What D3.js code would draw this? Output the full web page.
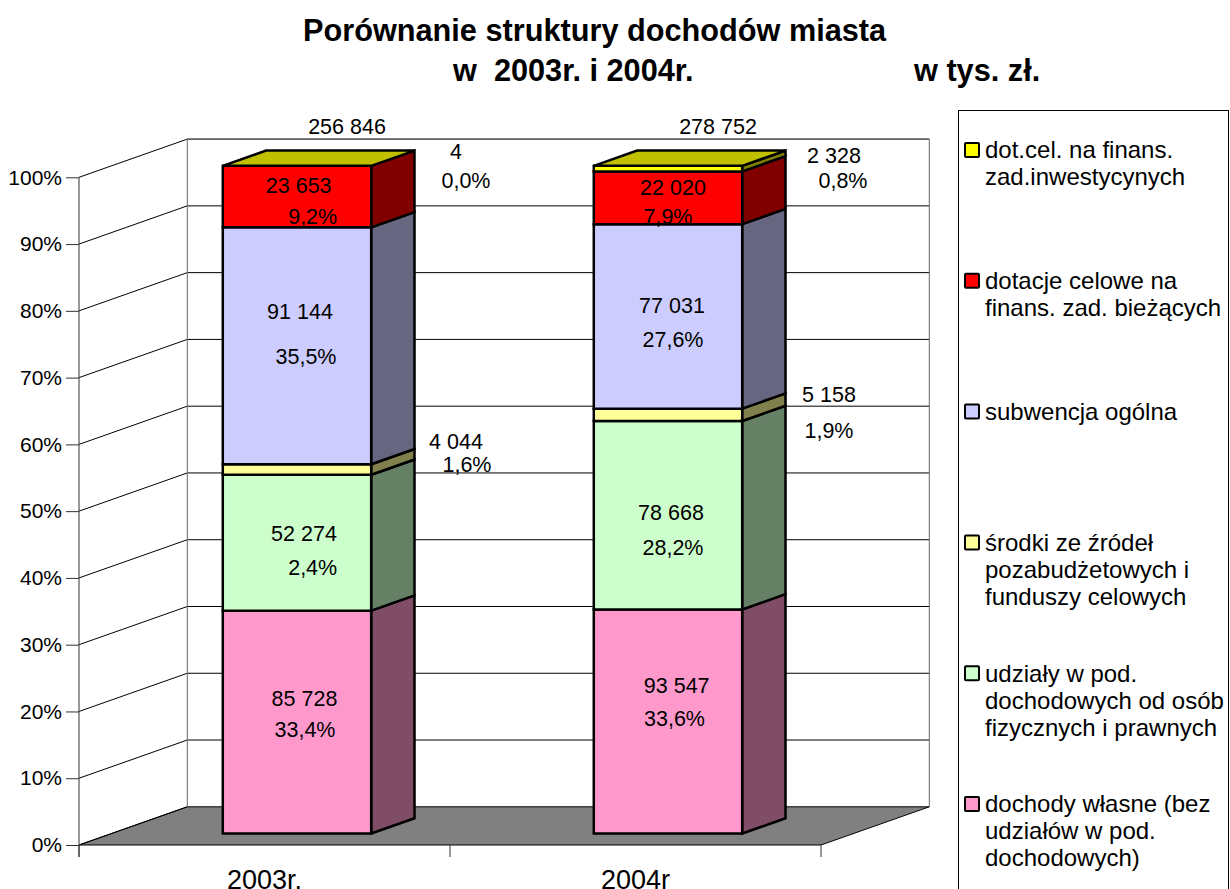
<!DOCTYPE html>
<html>
<head>
<meta charset="utf-8">
<script src="https://cdn.jsdelivr.net/npm/d3@7"></script>
<style>
  html, body { margin: 0; padding: 0; background: #fff; overflow: hidden; }
  svg { display: block; }
  text { font-family: "Liberation Sans", Arial, sans-serif; fill: #000; }
</style>
</head>
<body>
<div id="viz"></div>
<script>
var years = ['2003r.', '2004r'];
var seriesKeys = ['wlasne', 'udzialy', 'pozabudzet', 'subwencja', 'biezace', 'inwest'];

var values2003 = [85728, 52274, 4044, 91144, 23653, 4];
var values2004 = [93547, 78668, 5158, 77031, 22020, 2328];

var valueLabels2003 = ['85 728', '52 274', '4 044', '91 144', '23 653', '4'];
var valueLabels2004 = ['93 547', '78 668', '5 158', '77 031', '22 020', '2 328'];
var pctLabels2003 = ['33,4%', '2,4%', '1,6%', '35,5%', '9,2%', '0,0%'];
var pctLabels2004 = ['33,6%', '28,2%', '1,9%', '27,6%', '7,9%', '0,8%'];
var totalLabels = ['256 846', '278 752'];

var yTicks = [0, .1, .2, .3, .4, .5, .6, .7, .8, .9, 1];

var legendLabels = [
  ['dot.cel. na finans.', 'zad.inwestycynych'],
  ['dotacje celowe na', 'finans. zad. bieżących'],
  ['subwencja ogólna'],
  ['środki ze źródeł', 'pozabudżetowych i', 'funduszy celowych'],
  ['udziały w pod.', 'dochodowych od osób', 'fizycznych i prawnych'],
  ['dochody własne (bez', 'udziałów w pod.', 'dochodowych)']
];
var legendKeys = ['inwest', 'biezace', 'subwencja', 'pozabudzet', 'udzialy', 'wlasne'];

// colours
var frontColors = ['#FF99CC', '#CCFFCC', '#FFFF99', '#CCCCFF', '#FF0000', '#FFFF00'];
var sideColors = ['#804D66', '#668066', '#80804D', '#666680', '#800000', '#808000'];

// hand placed text boxes in the original, offsets from bar centre / segment middle
var valueNudge = [
  [[7.5, -24], [7, -9], [159, -28], [3, -34], [1.7, -11], [159, -14]],
  [[8.7, -36.5], [3, -3], [161, -20], [4, -11], [5, -10], [166, -13]]
];
var pctNudge = [
  [[8, 7], [15.7, 25], [170, -5.5], [9, 11], [15.7, 20], [169, 15]],
  [[6.5, -3.5], [5, 32], [161, 16], [5, 23], [0, 19], [175, 12]]
];

var width = 1230,
    height = 889,
    plotLeft = 79,
    plotRight = 821,
    axisSize = 21,
    labelSize = 21.5,
    legendSize = 24;

var table = years.map(function(y, i) {
  var row = {year: y};
  var vals = i === 0 ? values2003 : values2004;
  seriesKeys.forEach(function(k, j) { row[k] = vals[j]; });
  return row;
});

var stacked = d3.stack().keys(seriesKeys).offset(d3.stackOffsetExpand)(table);

var yScale = d3.scaleLinear().domain([0, 1]).range([845, 177.3]);
var xScale = d3.scaleBand()
    .domain(years)
    .paddingInner(.6)
    .paddingOuter(.3)
    .range([plotLeft, plotRight]);
var depthX = d3.scaleLinear().domain([0, 1]).range([0, 108.3]);
var depthY = d3.scaleLinear().domain([0, 1]).range([0, -38.2]);

// x on the front plane, v = share of total, d = depth 0..1
function pt(x, v, d) {
  return [x + depthX(d), yScale(v) + depthY(d)];
}
var poly = d3.line();
function face(points) { return poly(points) + 'Z'; }

var svg = d3.select('#viz').append('svg')
  .attr('width', width)
  .attr('height', height);

// floor
svg.append('path')
  .attr('d', face([pt(plotLeft, 0, 0), pt(plotRight, 0, 0), pt(plotRight, 0, 1), pt(plotLeft, 0, 1)]))
  .style('fill', '#808080');
svg.append('path')
  .attr('d', poly([pt(plotLeft, 0, 0), pt(plotRight, 0, 0), pt(plotRight, 0, 1), pt(plotLeft, 0, 1), pt(plotLeft, 0, 0)]))
  .style('fill', 'none').style('stroke', '#000').style('stroke-width', 1);

// gridlines: side wall + back wall
var grid = svg.append('g').style('fill', 'none').style('stroke', '#000').style('stroke-width', 1);
grid.selectAll('.side').data(yTicks).enter().append('path')
  .attr('d', function(d) { return poly([pt(plotLeft, d, 0), pt(plotLeft, d, 1)]); });
grid.selectAll('.back').data(yTicks.slice(1)).enter().append('path')
  .attr('d', function(d) { return poly([pt(plotLeft, d, 1), pt(plotRight, d, 1)]); });

// wall outlines
svg.append('path')
  .attr('d', poly([pt(plotLeft, 0, 1), pt(plotLeft, 1, 1), pt(plotRight, 1, 1), pt(plotRight, 0, 1)]))
  .style('fill', 'none').style('stroke', '#666').style('stroke-width', 1);

// y axis
var yAxis = svg.append('g')
  .attr('transform', 'translate(' + plotLeft + ',0)')
  .call(d3.axisLeft(yScale).tickValues(yTicks).tickFormat(d3.format('.0%')).tickSize(13).tickPadding(4));
yAxis.selectAll('text').style('font-size', axisSize + 'px');
yAxis.select('.domain').attr('d', poly([[0, yScale(1)], [0, yScale(0) + 12]])).style('stroke', '#333');
yAxis.selectAll('.tick line').style('stroke', '#333');

// category ticks sit on the band edges
var edges = d3.range(years.length + 1).map(function(i) { return plotLeft + i * xScale.step(); });
svg.selectAll('.catTick').data(edges).enter().append('line')
  .attr('x1', function(d) { return d; })
  .attr('x2', function(d) { return d; })
  .attr('y1', yScale(0))
  .attr('y2', yScale(0) + 12)
  .style('stroke', '#333');

svg.selectAll('.catLabel').data(years).enter().append('text')
  .attr('x', function(d) { return xScale(d) + xScale.bandwidth() / 2; })
  .attr('y', 889)
  .attr('text-anchor', 'middle')
  .style('font-size', '27px')
  .text(function(d) { return d; });

// bars
var barZ0 = .3, barZ1 = .7;
var bars = svg.append('g').style('stroke', '#000').style('stroke-width', 2.5).style('stroke-linejoin', 'miter');

stacked.forEach(function(layer, s) {
  layer.forEach(function(d, i) {
    var x0 = xScale(years[i]), x1 = x0 + xScale.bandwidth();
    if (d[1] - d[0] > .0005) {
      bars.append('path')
        .attr('d', face([pt(x1, d[0], barZ0), pt(x1, d[0], barZ1), pt(x1, d[1], barZ1), pt(x1, d[1], barZ0)]))
        .style('fill', sideColors[s]);
      bars.append('path')
        .attr('d', face([pt(x0, d[0], barZ0), pt(x1, d[0], barZ0), pt(x1, d[1], barZ0), pt(x0, d[1], barZ0)]))
        .style('fill', frontColors[s]);
    }
    if (s === stacked.length - 1) {
      bars.append('path')
        .attr('d', face([pt(x0, 1, barZ0), pt(x1, 1, barZ0), pt(x1, 1, barZ1), pt(x0, 1, barZ1)]))
        .style('fill', '#C0C000');
    }
  });
});

// data labels
function addLabel(x, y, txt) {
  svg.append('text')
    .attr('x', x)
    .attr('y', y)
    .attr('dy', '.35em')
    .attr('text-anchor', 'middle')
    .style('font-size', labelSize + 'px')
    .text(txt);
}

stacked.forEach(function(layer, s) {
  layer.forEach(function(d, i) {
    var c = pt(xScale(years[i]) + xScale.bandwidth() / 2, (d[0] + d[1]) / 2, barZ0);
    var vals = i === 0 ? valueLabels2003 : valueLabels2004;
    var pcts = i === 0 ? pctLabels2003 : pctLabels2004;
    addLabel(c[0] + valueNudge[i][s][0], c[1] + valueNudge[i][s][1], vals[s]);
    addLabel(c[0] + pctNudge[i][s][0], c[1] + pctNudge[i][s][1], pcts[s]);
  });
});

years.forEach(function(y, i) {
  var c = pt(xScale(y) + xScale.bandwidth() / 2, 1, barZ0);
  addLabel(c[0] + 50, c[1] - 39, totalLabels[i]);
});

// title
var titleRows = [
  {t: 'Porównanie struktury dochodów miasta', x: 303, y: 30},
  {t: 'w  2003r. i 2004r.', x: 453, y: 70},
  {t: 'w tys. zł.', x: 914, y: 70}
];
svg.selectAll('.title').data(titleRows).enter().append('text')
  .attr('x', function(d) { return d.x; })
  .attr('y', function(d) { return d.y; })
  .attr('dy', '.35em')
  .style('font-size', '30.7px')
  .style('font-weight', 'bold')
  .style('white-space', 'pre')
  .text(function(d) { return d.t; });

// legend
svg.append('rect')
  .attr('x', 958.5).attr('y', 110.5)
  .attr('width', 270).attr('height', 800)
  .style('fill', '#fff').style('stroke', '#000').style('stroke-width', 1);

var legendY = d3.scaleLinear().domain([0, 5]).range([150, 804]);
var legend = svg.selectAll('.legendItem').data(legendKeys).enter().append('g')
  .attr('transform', function(d, i) { return 'translate(0,' + legendY(i) + ')'; });

legend.append('rect')
  .attr('x', 965).attr('y', -7)
  .attr('width', 14).attr('height', 14)
  .attr('rx', 1)
  .style('stroke', '#000').style('stroke-width', 2)
  .style('fill', function(d) { return frontColors[seriesKeys.indexOf(d)]; });

legend.each(function(d, i) {
  d3.select(this).selectAll('text').data(legendLabels[i]).enter().append('text')
    .attr('x', 985)
    .attr('y', function(l, j) { return j * 27; })
    .attr('dy', '.35em')
    .style('font-size', legendSize + 'px')
    .text(function(l) { return l; });
});
</script>
</body>
</html>
